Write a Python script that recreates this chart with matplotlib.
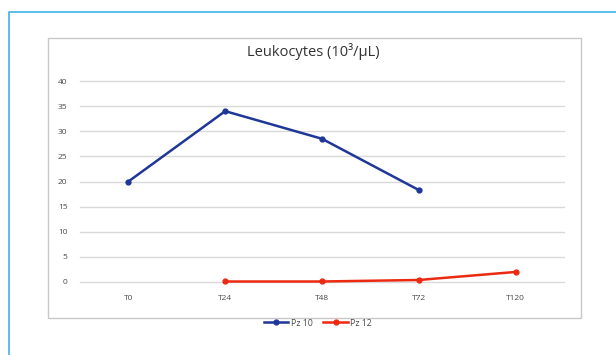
import matplotlib
matplotlib.use("Agg")
import matplotlib.pyplot as plt
from matplotlib.patches import Rectangle

categories = ["T0", "T24", "T48", "T72", "T120"]
pz10 = [20.0, 34.0, 28.5, 18.3, None]
pz12 = [None, 0.1, 0.1, 0.4, 2.0]
series_names = ["Pz 10", "Pz 12"]
yticks = [0, 5, 10, 15, 20, 25, 30, 35, 40]

W, H = 616, 355
fig = plt.figure(figsize=(W / 100, H / 100), dpi=100)
plt.rcParams["font.family"] = ["Open Sans", "DejaVu Sans"]

# outer frame
fig.patches.append(Rectangle((9 / W, -0.1), 1.2, 1.1 - 12 / H,
                             transform=fig.transFigure, fill=False,
                             edgecolor="#3fb3e6", linewidth=1.2, zorder=-2))
# chart box
fig.patches.append(Rectangle((48 / W, 1 - 318 / H), (581 - 48) / W, (318 - 38) / H,
                             transform=fig.transFigure, facecolor="white",
                             edgecolor="#c8c8c8", linewidth=1.0, zorder=-1))

ax = fig.add_axes([80 / W, 1 - 282 / H, (564 - 80) / W, (282 - 81) / H])
ax.set_zorder(2)
ax.set_facecolor("none")
x = list(range(len(categories)))

def pts(vals):
    xs = [i for i, v in zip(x, vals) if v is not None]
    ys = [v for v in vals if v is not None]
    return xs, ys

bx, by = pts(pz10)
rx, ry = pts(pz12)
ax.plot(bx, by, color="#1f3797", linewidth=1.8, marker="o", markersize=3.5,
        label=series_names[0], clip_on=False, zorder=3)
ax.plot(rx, ry, color="#ec2a12", linewidth=1.8, marker="o", markersize=3.5,
        label=series_names[1], clip_on=False, zorder=3)

ax.set_xlim(-0.5, len(categories) - 0.5)
ax.set_ylim(0, 40)
ax.set_yticks(yticks)
ax.set_xticks(x)
ax.set_xticklabels(categories)
ax.grid(axis="y", color="#d9d9d9", linewidth=1.0)
for gl in ax.get_ygridlines():
    gl.set_clip_on(False)
ax.set_axisbelow(True)
for s in ax.spines.values():
    s.set_visible(False)
ax.tick_params(length=0, labelsize=6, colors="#4a4a4a")
ax.tick_params(axis="y", pad=9)
ax.tick_params(axis="x", pad=9)

fig.text(313 / W, 1 - 52 / H, "Leukocytes (10\u00b3/\u00b5L)", ha="center", va="center",
         fontsize=10.5, color="#333333")

fig.legend(loc="center", bbox_to_anchor=(318 / W, 1 - 323 / H), ncol=2,
           frameon=False, fontsize=6.3, handlelength=2.8, columnspacing=1.2,
           handletextpad=0.3, labelcolor="#4a4a4a")

fig.savefig("out.png", dpi=100)
